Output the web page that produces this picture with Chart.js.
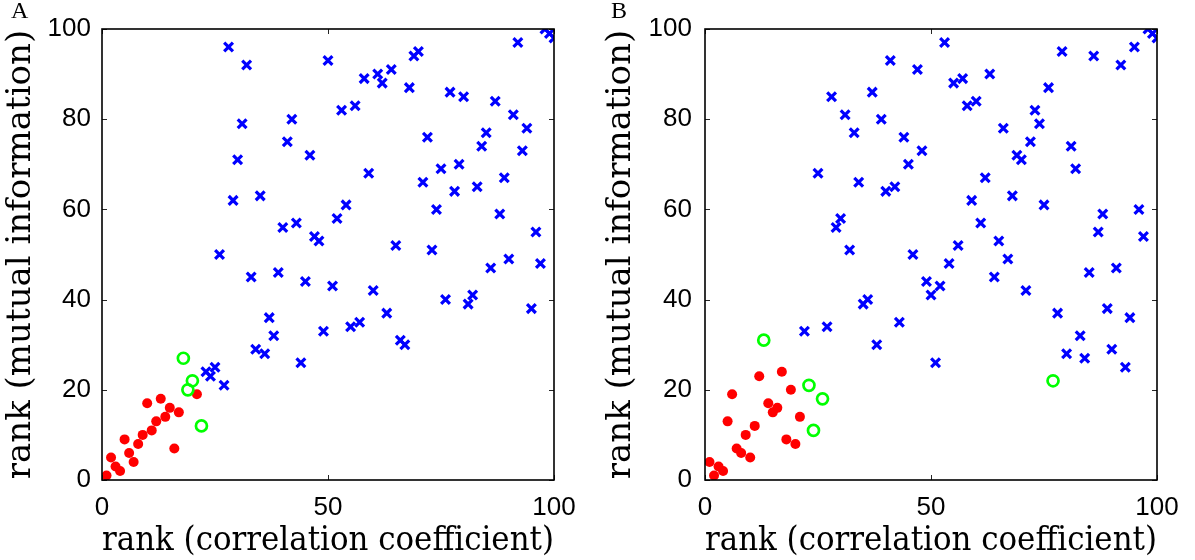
<!DOCTYPE html>
<html>
<head>
<meta charset="utf-8">
<script src="https://cdn.jsdelivr.net/npm/chart.js@4.4.1/dist/chart.umd.min.js"></script>
<style>
  html, body { margin: 0; padding: 0; background: #fff; }
  .wrap { position: absolute; top: 0; height: 560px; }
  .panel { position: absolute; top: -3px; font-family: "Liberation Serif", serif; font-size: 24px; color: #000; z-index: 2; }
</style>
</head>
<body>
<div class="wrap" style="left:0;width:600px"><canvas id="chartA" width="600" height="560"></canvas></div>
<div class="wrap" style="left:600px;width:595px"><canvas id="chartB" width="595" height="560"></canvas></div>
<div class="panel" style="left:11px">A</div>
<div class="panel" style="left:611px">B</div>
<script>
// ---------- data (ranks) ----------
const xTicks = [0, 50, 100];
const yTicks = [0, 20, 40, 60, 80, 100];
const xTitle = "rank (correlation coefficient)";
const yTitle = "rank (mutual information)";

// Panel A
const blueAX = [23,24,25,26,27,28,29,30,31,32,33,34,35,36,37,38,39,40,41,42,43,44,45,46,47,48,49,50,51,52,53,54,55,56,57,58,59,60,61,62,63,64,65,66,67,68,69,70,71,72,73,74,75,76,77,78,79,80,81,82,83,84,85,86,87,88,89,90,91,92,93,94,95,96,97,98,99,100];
const blueAY = [24,23,25,50,21,96,62,71,79,92,45,29,63,28,36,32,46,56,75,80,57,26,44,72,54,53,33,93,43,58,82,61,34,83,35,89,68,42,90,88,37,91,52,31,30,87,94,95,66,76,51,60,69,40,86,64,70,85,39,41,65,74,77,47,84,59,67,49,81,97,73,78,38,55,48,100,99,98];
const redAX = [1,2,3,4,5,6,7,8,9,10,11,12,13,14,15,16,17,21];
const redAY = [1,5,3,2,9,6,4,8,10,17,11,13,18,14,16,7,15,19];
const greenAX = [18,19,20,22];
const greenAY = [27,20,22,12];

// Panel B
const blueBX = [22,25,27,28,29,30,31,32,33,34,35,36,37,38,39,40,41,42,43,44,45,46,47,48,49,50,51,52,53,54,55,56,57,58,59,60,61,62,63,64,65,66,67,68,69,70,71,72,73,74,75,76,78,79,80,81,82,83,84,85,86,87,88,89,90,91,92,93,94,95,96,97,98,99,100];
const blueBY = [33,68,34,85,56,58,81,51,77,66,39,40,86,30,80,64,93,65,35,76,70,50,91,73,44,41,26,43,97,48,88,52,89,83,62,84,57,67,90,45,53,78,49,63,72,71,42,75,82,79,61,87,37,95,28,74,69,32,27,46,94,55,59,38,29,47,92,25,36,96,60,54,100,99,98];
const redBX = [1,2,3,4,5,6,7,8,9,10,11,12,14,15,16,17,18,19,20,21];
const redBY = [4,1,3,2,13,19,7,6,10,5,12,23,17,15,16,24,9,20,8,14];
const greenBX = [13,23,24,26,77];
const greenBY = [31,21,11,18,22];

// ---------- helpers ----------
function pts(xs, ys) { return xs.map((x, i) => ({ x: x, y: ys[i] })); }

const boxPlugin = {
  id: 'matlabBox',
  afterDatasetsDraw(chart) {
    const { ctx, chartArea: a, scales } = chart;
    ctx.save();
    ctx.strokeStyle = '#262626';
    ctx.lineWidth = 1;
    const tl = 5;
    ctx.beginPath();
    yTicks.forEach(v => {
      const p = Math.round(scales.y.getPixelForValue(v)) + 0.5;
      ctx.moveTo(a.left, p); ctx.lineTo(a.left + tl, p);
      ctx.moveTo(a.right, p); ctx.lineTo(a.right - tl, p);
    });
    xTicks.forEach(v => {
      const p = Math.round(scales.x.getPixelForValue(v)) + 0.5;
      ctx.moveTo(p, a.bottom); ctx.lineTo(p, a.bottom - tl);
      ctx.moveTo(p, a.top); ctx.lineTo(p, a.top + tl);
    });
    ctx.stroke();
    ctx.strokeStyle = '#000';
    ctx.lineWidth = 1.6;
    ctx.strokeRect(a.left, a.top, a.right - a.left, a.bottom - a.top);
    ctx.restore();
  }
};

function makeChart(id, cfg) {
  const tickFont = { family: "'Liberation Sans', Arial, sans-serif", size: 26 };
  const titleFont = { family: "'DejaVu Serif', serif", size: 34 };
  return new Chart(document.getElementById(id), {
    type: 'scatter',
    data: {
      datasets: [
        { data: pts(cfg.gx, cfg.gy), pointStyle: 'circle', pointRadius: 5.5, borderWidth: 2.7,
          borderColor: '#00ff00', backgroundColor: 'rgba(0,0,0,0)' },
        { data: pts(cfg.rx, cfg.ry), pointStyle: 'circle', pointRadius: 5, borderWidth: 0,
          borderColor: '#ff0000', backgroundColor: '#ff0000' },
        { data: pts(cfg.bx, cfg.by), pointStyle: 'crossRot', pointRadius: 6.2, borderWidth: 3.2,
          borderColor: '#0000ff', backgroundColor: '#0000ff' }
      ]
    },
    options: {
      responsive: false,
      animation: false,
      events: [],
      layout: { padding: { top: 29, right: cfg.rightPad, left: 0, bottom: 0 } },
      plugins: { legend: { display: false }, tooltip: { enabled: false } },
      scales: {
        x: {
          type: 'linear', min: 0, max: 100,
          afterBuildTicks: s => { s.ticks = xTicks.map(v => ({ value: v })); },
          afterFit: s => { s.height = 80; },
          grid: { display: false, drawTicks: false },
          border: { display: false },
          ticks: { font: tickFont, color: '#000', padding: 12, maxRotation: 0 },
          title: { display: true, text: xTitle, font: titleFont, color: '#000', padding: { top: 0, bottom: -2 } }
        },
        y: {
          type: 'linear', min: 0, max: 100,
          afterBuildTicks: s => { s.ticks = yTicks.map(v => ({ value: v })); },
          afterFit: s => { s.width = cfg.yWidth; },
          grid: { display: false, drawTicks: false },
          border: { display: false },
          ticks: { font: tickFont, color: '#000', padding: cfg.yPad },
          title: { display: true, text: yTitle, font: titleFont, color: '#000', padding: { top: 1, bottom: 0 } }
        }
      }
    },
    plugins: [boxPlugin]
  });
}

makeChart('chartA', { bx: blueAX, by: blueAY, rx: redAX, ry: redAY, gx: greenAX, gy: greenAY, yWidth: 102, rightPad: 46, yPad: 11 });
makeChart('chartB', { bx: blueBX, by: blueBY, rx: redBX, ry: redBY, gx: greenBX, gy: greenBY, yWidth: 105, rightPad: 38, yPad: 13 });
</script>
</body>
</html>
